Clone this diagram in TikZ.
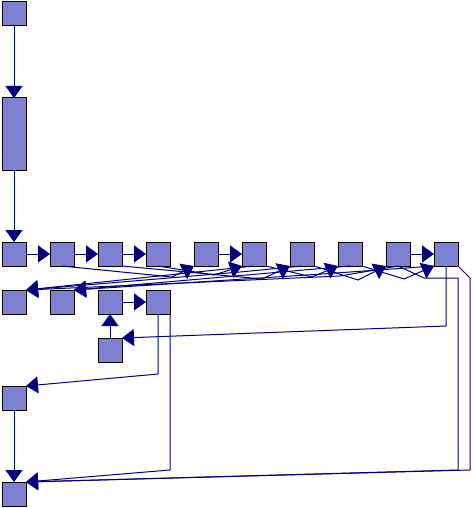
\documentclass[tikz,border=0pt]{standalone}
\usepackage{tikz}
\usetikzlibrary{arrows.meta, positioning}
\definecolor{boxfill}{RGB}{128,128,210}
\definecolor{linkcol}{RGB}{0,0,128}
\tikzstyle{box} = [rectangle, minimum width=24pt, minimum height=24pt, inner sep=0pt, outer sep=0pt, draw=black, line width=1pt, fill=boxfill]
\tikzstyle{link} = [draw=linkcol, line width=1pt, -{Triangle[length=12pt, width=17pt]}, linkcol]

\begin{document}
\begin{tikzpicture}[x=1pt, y=-1pt]
\useasboundingbox (0,0) rectangle (472,508);

% Column
\node (t1) [box] at (14,14) {};
\node (t2) [box, minimum height=72pt, below=72pt of t1] {};

% First row
\node (a1) [box, below=72pt of t2] {};
\node (a2) [box, right=24pt of a1] {};
\node (a3) [box, right=24pt of a2] {};
\node (a4) [box, right=24pt of a3] {};
\node (a5) [box, right=24pt of a4] {};
\node (a6) [box, right=24pt of a5] {};
\node (a7) [box, right=24pt of a6] {};
\node (a8) [box, right=24pt of a7] {};
\node (a9) [box, right=24pt of a8] {};
\node (a10) [box, right=24pt of a9] {};

% Second row
\node (b1) [box, below=24pt of a1] {};
\node (b2) [box, right=24pt of b1] {};
\node (b3) [box, right=24pt of b2] {};
\node (b4) [box, right=24pt of b3] {};
\node (c1) [box, below=24pt of b3] {};

% Bottom
\node (d1) [box, below=72pt of b1] {};
\node (d2) [box, below=72pt of d1] {};

% Straight links
\draw [link] (t1) -- (t2);
\draw [link] (t2) -- (a1);
\draw [link] (a1) -- (a2);
\draw [link] (a2) -- (a3);
\draw [link] (a3) -- (a4);
\draw [link] (a5) -- (a6);
\draw [link] (a9) -- (a10);
\draw [link] (b3) -- (b4);
\draw [link] (c1) -- (b3);
\draw [link] (d1) -- (d2);

% Forward links under the first row
\draw [link] (a2.south) -- (172,277) -- (a5.south west);
\draw [link] (a4.south) -- (214,275) -- (a6.south west);
\draw [link] (a3.south east) -- (262,279) -- (a7.south west);
\draw [link] (a6.south east) -- (312,277) -- (a8.south west);
\draw [link] (a7.south east) -- (358,280) -- (a9.south west);
\draw [link] (a8.south east) -- (404,279) -- (a10.south west);

% Backward links to the second row
\draw [link] (a6.south) -- (b1.north east);
\draw [link] (a7.south) -- (240,272) -- (b1.north east);
\draw [link] (a9.south) -- (340,276) -- (b1.north east);
\draw [link] (a8.south) -- (b2.north east);
\draw [link] (a10.south west) -- (322,274) -- (b2.north east);

% Long links
\draw [link] (b4.south) -- (158,374) -- (d1.north east);
\draw [link] (b4.south east) -- (170,470) -- (d2.north east);
\draw [link] (a10.south) -- (446,326) -- (c1.north east);
\draw [link] (a9.south) -- (424,278) -- (458,278) -- (458,470) -- (d2.north east);
\draw [link] (a10.south east) -- (470,278) -- (470,470) -- (d2.north east);

\end{tikzpicture}
\end{document}
